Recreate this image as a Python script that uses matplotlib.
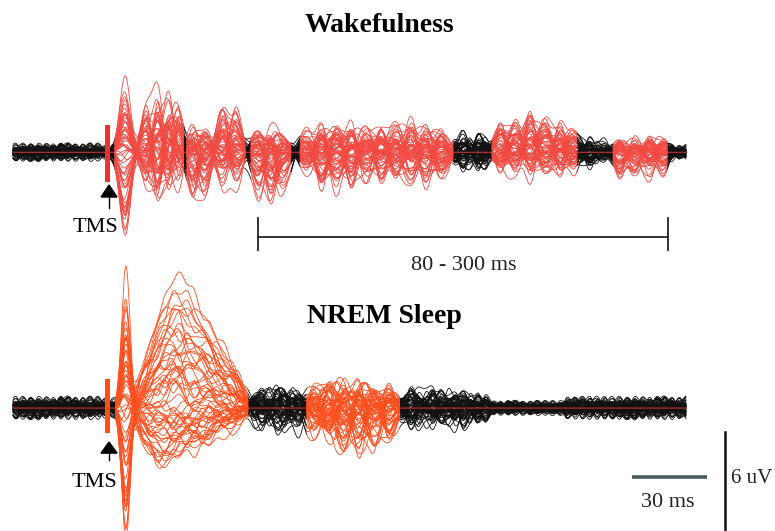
import numpy as np
import matplotlib
matplotlib.use("Agg")
import matplotlib.pyplot as plt
from matplotlib.patches import Rectangle, Polygon

# ---------------- data ----------------
# channel mixing weights (hand typed, one per EEG channel)
CH_A = [0.92, -0.35, 0.18, -0.81, 0.55, -0.12, 0.71, -0.64, 0.05, 0.38, -0.97, 0.27,
        -0.44, 0.63, -0.22, 0.84, -0.58, 0.11, 0.47, -0.73, 0.33, -0.05, 0.68, -0.31,
        1.0, -0.52, 0.21, -0.88, 0.42, -0.16, 0.59, -0.69, 0.08, 0.77, -0.40, 0.25,
        -0.93, 0.50, -0.27, 0.14, -0.61, 0.36, -0.09, 0.80, -0.48, 0.62, -0.20, 0.29,
        0.45, -0.83, 0.16, -0.34, 0.73, -0.57, 0.03, 0.88, -0.19, 0.41, -0.70, 0.24]
CH_B = [-0.41, 0.66, -0.87, 0.23, -0.15, 0.95, -0.60, 0.34, -0.72, 0.10, 0.52, -0.29,
        0.81, -0.06, 0.44, -0.99, 0.17, -0.55, 0.70, -0.36, 0.02, 0.88, -0.47, 0.58,
        -0.21, 0.31, -0.78, 0.13, -0.64, 0.90, -0.11, 0.39, -0.83, 0.26, 0.61, -0.50,
        0.07, -0.25, 0.74, -0.67, 0.48, -0.03, 0.96, -0.38, 0.19, -0.91, 0.54, -0.14,
        0.35, -0.58, 0.82, -0.27, 0.12, -0.74, 0.63, -0.45, 0.28, -0.08, 0.69, -0.33]

# Wakefulness: component centre (ms), width (ms), upper / lower envelope (uV), group
wake_tc = [8.5, 20, 26, 32, 37, 45, 51, 61, 68, 80, 87, 93,
           106, 114, 122, 130, 138, 146, 154, 162, 170, 178,
           190, 199,
           210, 218, 226, 234, 242, 249,
           258, 265,
           274, 282, 290, 297]
wake_sd = [2.9, 2.8, 2.8, 2.8, 2.6, 3.0, 3.0, 3.0, 3.0, 3.2, 3.2, 3.2,
           3.2, 3.2, 3.2, 3.2, 3.2, 3.2, 3.2, 3.2, 3.2, 3.2,
           3.0, 3.0,
           3.2, 3.2, 3.2, 3.2, 3.2, 3.2,
           3.0, 3.0,
           3.0, 3.0, 3.0, 3.0]
wake_up = [4.7, 3.0, 3.9, 3.7, 2.6, 1.5, 1.5, 2.9, 2.8, 1.3, 1.4, 1.1,
           1.3, 1.8, 2.0, 1.9, 1.6, 1.5, 1.8, 1.9, 1.7, 1.3,
           1.0, 0.9,
           1.6, 2.1, 2.3, 2.2, 1.9, 1.4,
           0.6, 0.5,
           0.8, 0.85, 0.85, 0.75]
wake_dn = [4.8, 2.2, 2.8, 2.6, 2.0, 2.9, 2.8, 2.2, 2.1, 2.8, 3.4, 2.8,
           1.5, 2.1, 2.3, 2.2, 1.8, 1.6, 1.8, 2.0, 1.9, 1.5,
           1.0, 0.9,
           1.1, 1.4, 1.5, 1.5, 1.4, 1.2,
           0.7, 0.6,
           1.4, 1.7, 1.7, 1.4]
wake_grp = [0] * len(wake_tc)
wake_noise_t = [-60, -2, 40, 74, 98, 185, 206, 251, 270, 300]
wake_noise_a = [0.55, 0.40, 0.45, 0.45, 0.50, 0.75, 0.50, 0.50, 0.40, 0.45]
wake_red = [(3, 40), (41.5, 73), (76, 97.5), (102.5, 184.5), (205.5, 251), (270.5, 299.5)]

# NREM sleep
sleep_tc = [9,
            20, 28, 36, 44, 52, 60, 68,
            82, 92, 100,
            110, 118, 126, 134, 142, 150,
            162, 172, 182, 192]
sleep_sd = [2.3,
            4.5, 4.5, 4.5, 4.5, 4.5, 4.5, 4.5,
            4.0, 4.0, 4.0,
            4.0, 4.0, 4.0, 4.0, 4.0, 4.0,
            4.0, 4.0, 4.0, 4.0]
sleep_up = [8.7,
            2.5, 4.5, 6.0, 5.4, 4.3, 3.0, 1.8,
            1.0, 1.1, 0.9,
            1.3, 1.6, 1.7, 1.7, 1.6, 1.4,
            0.9, 0.9, 0.9, 0.7]
sleep_dn = [7.5,
            2.0, 2.8, 2.5, 2.0, 1.6, 1.2, 0.9,
            1.2, 1.3, 1.1,
            2.0, 2.6, 2.8, 2.8, 2.6, 2.2,
            1.0, 1.0, 1.1, 0.8]
sleep_grp = [0, 1, 1, 1, 1, 1, 1, 1, 0, 0, 0, 0, 0, 0, 0, 0, 0, 0, 0, 0, 0]
sleep_noise_t = [-60, -2, 75, 106, 156, 206, 245]
sleep_noise_a = [0.70, 0.60, 0.85, 0.60, 0.85, 0.45, 0.70]
sleep_red = [(3.5, 74.5), (106, 156)]

WAKE_BASE = 15.5   # uV offset of the wake butterfly plot
SLEEP_BASE = 0.0

# ---------------- build traces ----------------
A = np.array(CH_A)
B = np.array(CH_B)
n = len(A)
k = np.arange(n)
t = np.linspace(-51.5, 309.5, 2400)


def norm(w):
    w = w.copy()
    pos = w > 0
    w[pos] /= w[pos].max()
    w[~pos] /= -w[~pos].min()
    return w


def build(tc, sd, up, dn, grp, nt, na):
    Y = np.zeros((n, t.size))
    for c in range(len(tc)):
        if grp[c] > 0:
            w = 0.8 * A[(k + 13 * grp[c]) % n] + 0.2 * B[(7 * k + c) % n]
        else:
            w = 0.65 * A[(7 * k + 3 * c) % n] + 0.35 * B[(k + 11 * c) % n]
        w = norm(w)
        amp = np.where(w > 0, w * up[c], w * dn[c])
        Y += amp[:, None] * np.exp(-(t[None, :] - tc[c]) ** 2 / (2 * sd[c] ** 2))
    centres = np.arange(-54.0, 314.0, 4.0)
    nt = np.array(nt)
    for j, tj in enumerate(centres):
        a = na[np.searchsorted(nt, tj, side="right") - 1]
        w = norm(0.6 * B[(7 * k + j) % n] + 0.4 * A[(11 * k + 2 * j) % n])
        Y += a * w[:, None] * np.exp(-(t[None, :] - tj) ** 2 / (2 * 2.0 ** 2))
    return Y


Yw = build(wake_tc, wake_sd, wake_up, wake_dn, wake_grp, wake_noise_t, wake_noise_a)
Ys = build(sleep_tc, sleep_sd, sleep_up, sleep_dn, sleep_grp, sleep_noise_t, sleep_noise_a)

# ---------------- draw ----------------
SERIF = ["Liberation Serif", "DejaVu Serif"]
fig = plt.figure(figsize=(7.75, 5.31), dpi=100)
ax = fig.add_axes([0, 0, 1, 1])
ax.set_xlim(-58.5, 357.3)
ax.set_ylim(-7.45, 24.73)
ax.axis("off")

BLACK = "#111111"
RED_W = "#f24a42"
RED_S = "#ff4f1e"


def draw(Y, base, windows, red):
    inside = np.zeros(t.size, dtype=bool)
    for (a, b) in windows:
        inside |= (t > a) & (t < b)
    core = inside.copy()
    core[1:] &= inside[:-1]
    core[:-1] &= inside[1:]
    for i in range(n):
        yb = np.ma.masked_where(core, Y[i] + base)
        ax.plot(t, yb, color=BLACK, lw=0.6, zorder=2)
    yl = np.ma.masked_where(core, np.full(t.size, base))
    ax.plot(t[2:], yl[2:], color="#c8302a", lw=0.8, zorder=3)
    for (a, b) in windows:
        m = (t >= a) & (t <= b)
        for i in range(n):
            ax.plot(t[m], Y[i, m] + base, color=red, lw=0.6, zorder=4)


draw(Yw, WAKE_BASE, wake_red, RED_W)
draw(Ys, SLEEP_BASE, sleep_red, RED_S)

# TMS markers
ax.add_patch(Rectangle((-2.2, WAKE_BASE - 1.8), 2.7, 3.44, facecolor="#f03030",
                       edgecolor="none", zorder=5))
ax.add_patch(Rectangle((-2.2, SLEEP_BASE - 1.5), 2.7, 3.26, facecolor="#ff5010",
                       edgecolor="none", zorder=5))
for tip, basev, stem in [(13.52, 12.79, 12.12), (-2.06, -2.73, -3.15)]:
    ax.add_patch(Polygon([(0, tip), (-4.3, basev), (4.3, basev)], closed=True,
                         facecolor="black", edgecolor="black", zorder=6))
    ax.plot([0, 0], [basev, stem], color="black", lw=1.0, zorder=6)
ax.text(-7.5, 10.67, "TMS", family=SERIF, fontsize=16, ha="center", va="baseline")
ax.text(-8.0, -4.79, "TMS", family=SERIF, fontsize=16, ha="center", va="baseline")

# titles
ax.text(144.9, 22.79, "Wakefulness", family=SERIF, fontsize=20, fontweight="bold",
        ha="center", va="baseline")
ax.text(148.0, 5.15, "NREM Sleep", family=SERIF, fontsize=20, fontweight="bold",
        ha="center", va="baseline")

# 80 - 300 ms bracket
ax.plot([80, 300], [10.37, 10.37], color="#222222", lw=1.3)
for xx in (80, 300):
    ax.plot([xx, xx], [9.58, 11.52], color="#222222", lw=1.3)
ax.text(190.5, 8.37, "80 - 300 ms", family=SERIF, fontsize=16, ha="center",
        va="baseline", color="#222222")

# scale bars
ax.plot([280.6, 320.8], [-4.18, -4.18], color="#4a5b60", lw=2.6, solid_capstyle="butt")
ax.text(299.9, -5.99, "30 ms", family=SERIF, fontsize=16, ha="center", va="baseline",
        color="#222222")
ax.plot([330.5, 330.5], [-1.45, -7.45], color="#111111", lw=1.8)
ax.text(333.8, -4.54, "6 uV", family=SERIF, fontsize=15, ha="left", va="baseline",
        color="#222222")

fig.savefig("out.png", dpi=100)
